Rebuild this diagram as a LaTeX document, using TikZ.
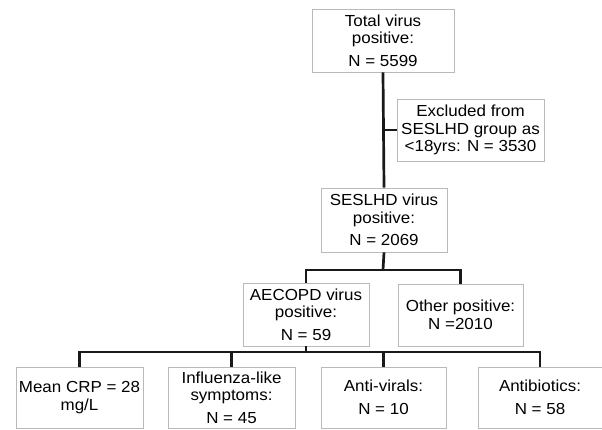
\documentclass[tikz,border=0pt]{standalone}
\usepackage{fontspec}
\setmainfont[FakeStretch=1.06]{Liberation Sans}
\usetikzlibrary{shadows}
\begin{document}
\begin{tikzpicture}[x=1pt,y=-1pt,
  box/.style={draw=gray!55, line width=0.8pt, fill=white, align=center, inner sep=0pt,
    font=\fontsize{16}{17.5}\selectfont,
    drop shadow={shadow xshift=1.2pt, shadow yshift=-1.2pt, opacity=0.35, fill=gray}},
  link/.style={line width=2.7pt, draw=black!90, line join=miter}]
\useasboundingbox (0,0) rectangle (602,430);
\node[box, minimum width=142pt, minimum height=63pt] (top) at (383,40.5) {Total virus\\positive:\\[5pt]N = 5599};
\node[box, minimum width=147pt, minimum height=62pt] (excl) at (470.5,130) {Excluded from\\SESLHD group as\\<18yrs: N = 3530};
\node[box, minimum width=126pt, minimum height=64pt] (ses) at (384,220) {SESLHD virus\\positive:\\[5pt]N = 2069};
\node[box, minimum width=126pt, minimum height=63pt] (aecopd) at (306,314.5) {AECOPD virus\\positive:\\[5pt]N = 59};
\node[box, minimum width=125pt, minimum height=62pt] (other) at (460.5,315) {Other positive:\\N =2010};
\node[box, minimum width=127pt, minimum height=61pt] (crp) at (79.5,397.5) {Mean CRP = 28\\mg/L};
\node[box, minimum width=127pt, minimum height=61pt] (flu) at (231.5,397.5) {Influenza-like\\symptoms:\\[5pt]N = 45};
\node[box, minimum width=125pt, minimum height=61pt] (anti) at (383.5,397.5) {Anti-virals:\\[6pt]N = 10};
\node[box, minimum width=124pt, minimum height=61pt] (abx) at (540,397.5) {Antibiotics:\\[6pt]N = 58};
\coordinate (j1) at (383,270);
\coordinate (j2) at (306,352);
\draw[link] (top.south) -- (ses.north);
\draw[link] (top.south |- excl.west) -- (excl.west);
\draw[link] (ses.south) -- (j1);
\draw[link] (aecopd.north) |- (j1) -| (other.north);
\draw[link] (aecopd.south) -- (j2);
\draw[link] (crp.north) |- (j2) -| (abx.north);
\draw[link] (flu.north) -- (flu.north |- j2);
\draw[link] (anti.north) -- (anti.north |- j2);
\end{tikzpicture}
\end{document}
